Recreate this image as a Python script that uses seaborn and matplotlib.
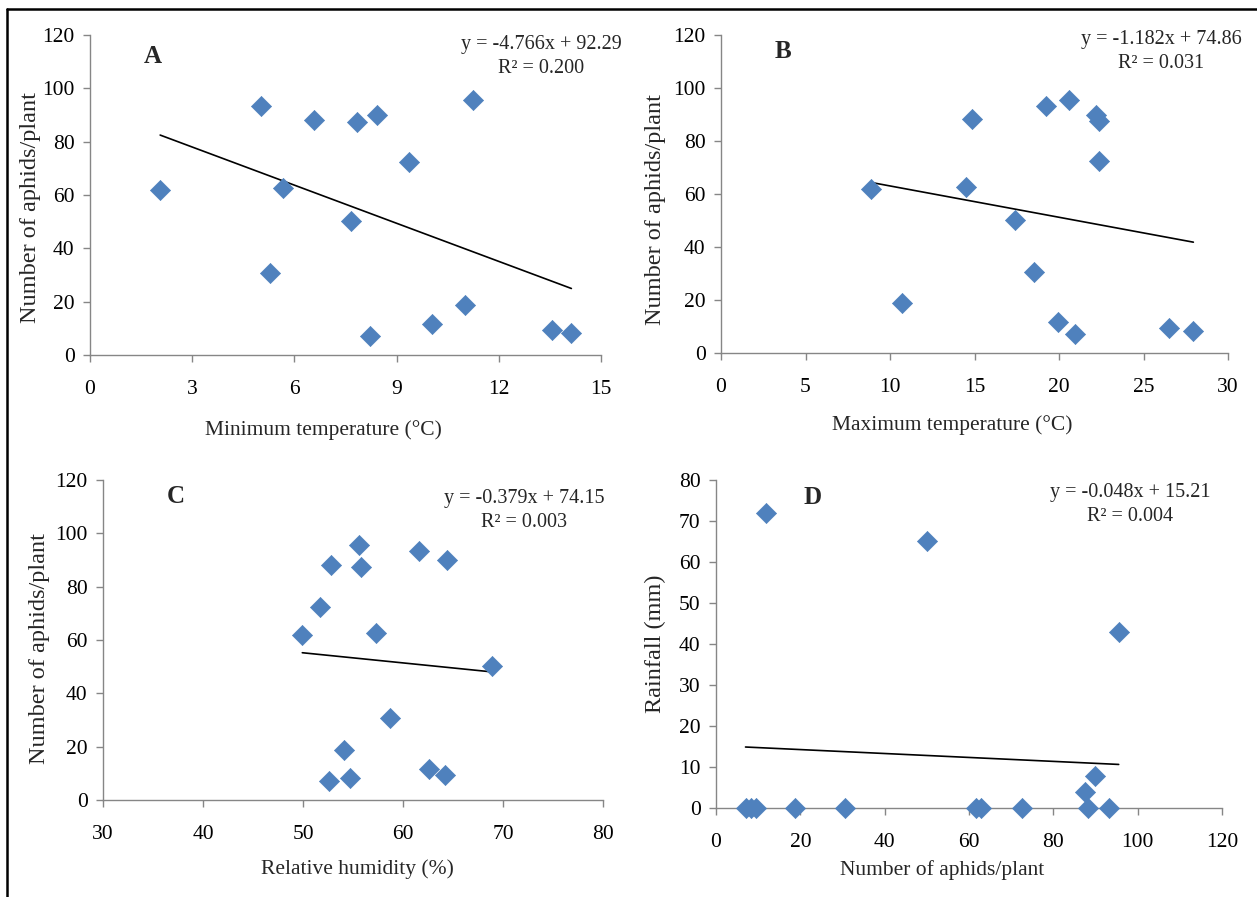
import numpy as np
import pandas as pd
import matplotlib
matplotlib.use("Agg")
import matplotlib.pyplot as plt
import seaborn as sns
from matplotlib.lines import Line2D

aphids = [61.7, 93.3, 30.6, 62.8, 88.3, 50.1, 87.4, 7.0, 89.9, 72.5, 11.8, 18.7, 95.5, 9.5, 8.2]
min_temp = [2.06, 5.02, 5.29, 5.67, 6.57, 7.65, 7.85, 8.22, 8.43, 9.35, 10.05, 11.0, 11.24, 13.57, 14.13]
max_temp = [8.87, 19.23, 18.52, 14.52, 14.86, 17.38, 22.37, 20.94, 22.18, 22.37, 19.94, 10.72, 20.58, 26.53, 27.95]
rel_hum = [49.93, 61.64, 58.67, 57.27, 52.81, 68.89, 55.82, 52.57, 64.36, 51.65, 62.56, 54.14, 55.58, 64.2, 54.66]
rainfall = [0, 0, 0, 0, 0, 65.1, 3.9, 0, 7.7, 0, 72.0, 0, 42.9, 0, 0]

# Trendline equations printed on each panel
slopes = [-4.766, -1.182, -0.379, -0.048]
intercepts = [92.29, 74.86, 74.15, 15.21]
eq_text = ["y = -4.766x + 92.29\nR² = 0.200",
           "y = -1.182x + 74.86\nR² = 0.031",
           "y = -0.379x + 74.15\nR² = 0.003",
           "y = -0.048x + 15.21\nR² = 0.004"]
letters = ["A", "B", "C", "D"]

df = pd.DataFrame({"aphids": aphids, "tmin": min_temp, "tmax": max_temp,
                   "rh": rel_hum, "rain": rainfall})

sns.set_theme(style="white")
plt.rcParams["font.family"] = ["Liberation Serif", "DejaVu Serif"]

W, H = 1257, 897
fig = plt.figure(figsize=(W / 100, H / 100), dpi=100)

# pixel boxes: left, right, top, bottom
boxes = [(90, 601, 35, 355), (721, 1228, 35, 353), (103, 603, 480, 800), (716, 1222, 480, 808)]

panels = [
    dict(x="tmin", y="aphids", xlim=(0, 15), xt=[0, 3, 6, 9, 12, 15], ylim=(0, 120), yt=range(0, 121, 20),
         xlabel="Minimum temperature (°C)", ylabel="Number of aphids/plant",
         xl=(0.456, -0.234), yl=(-0.117, 0.4625), letter=(0.123, 0.934), eq=(0.883, 0.934)),
    dict(x="tmax", y="aphids", xlim=(0, 30), xt=range(0, 31, 5), ylim=(0, 120), yt=range(0, 121, 20),
         xlabel="Maximum temperature (°C)", ylabel="Number of aphids/plant",
         xl=(0.456, -0.226), yl=(-0.130, 0.45), letter=(0.122, 0.947), eq=(0.868, 0.947)),
    dict(x="rh", y="aphids", xlim=(30, 80), xt=range(30, 81, 10), ylim=(0, 120), yt=range(0, 121, 20),
         xlabel="Relative humidity (%)", ylabel="Number of aphids/plant",
         xl=(0.508, -0.216), yl=(-0.126, 0.475), letter=(0.146, 0.947), eq=(0.842, 0.906)),
    dict(x="aphids", y="rain", xlim=(0, 120), xt=range(0, 121, 20), ylim=(0, 80), yt=range(0, 81, 10),
         xlabel="Number of aphids/plant", ylabel="Rainfall (mm)",
         xl=(0.447, -0.189), yl=(-0.12, 0.5), letter=(0.19, 0.948), eq=(0.818, 0.924)),
]

for i, (p, (l, r, t, b)) in enumerate(zip(panels, boxes)):
    ax = fig.add_axes([l / W, 1 - b / H, (r - l) / W, (b - t) / H])
    sns.scatterplot(data=df, x=p["x"], y=p["y"], marker="D", s=105, color="#4F81BD",
                    edgecolor="#4F81BD", linewidth=0.5, ax=ax, zorder=3, clip_on=False)
    # trendline over the data range
    xs = np.array([df[p["x"]].min(), df[p["x"]].max()])
    line = pd.DataFrame({"x": xs, "y": slopes[i] * xs + intercepts[i]})
    sns.lineplot(data=line, x="x", y="y", color="black", linewidth=1.2, ax=ax, zorder=2)

    ax.set_xlim(*p["xlim"])
    ax.set_ylim(*p["ylim"])
    ax.set_xticks(list(p["xt"]))
    ax.set_yticks(list(p["yt"]))
    ax.set_xlabel(p["xlabel"], fontsize=15.5, va="center")
    ax.set_ylabel(p["ylabel"], fontsize=17.5, va="center")
    ax.xaxis.set_label_coords(*p["xl"])
    ax.yaxis.set_label_coords(*p["yl"])
    for s in ["top", "right"]:
        ax.spines[s].set_visible(False)
    for s in ["left", "bottom"]:
        ax.spines[s].set_color("#868686")
        ax.spines[s].set_linewidth(1.0)
    ax.tick_params(axis="both", direction="out", length=5, width=1, color="#868686",
                   labelsize=15.5, labelcolor="black", bottom=True, left=True)
    ax.tick_params(axis="x", pad=13)
    ax.tick_params(axis="y", pad=6)
    ax.text(*p["letter"], letters[i], transform=ax.transAxes, fontsize=18, fontweight="bold",
            ha="center", va="center")
    ax.text(*p["eq"], eq_text[i], transform=ax.transAxes, fontsize=14.5,
            ha="center", va="center", linespacing=1.35)

# frame lines along the left and top edge of the figure
fig.add_artist(Line2D([7 / W, 7 / W], [0, 1 - 9 / H], color="black", linewidth=1.8))
fig.add_artist(Line2D([7 / W, 1], [1 - 9 / H, 1 - 9 / H], color="black", linewidth=1.8))

fig.savefig("out.png", dpi=100)
